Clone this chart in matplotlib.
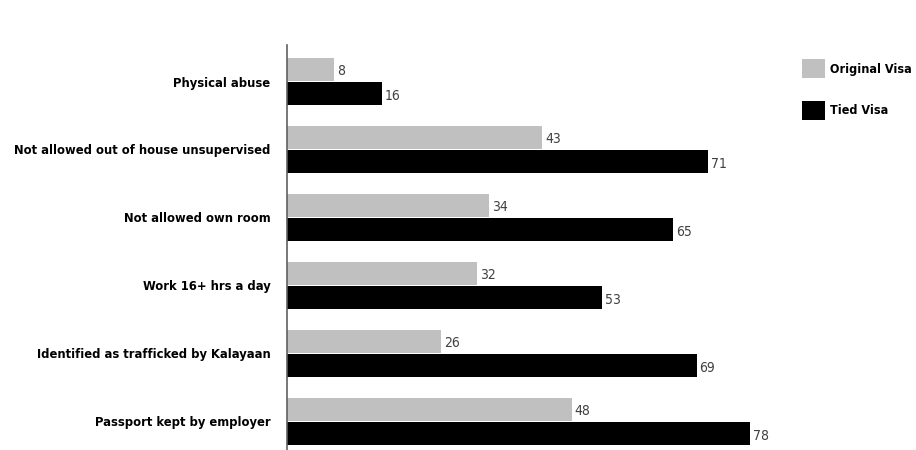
import numpy as np
import matplotlib.pyplot as plt

categories = [
    'Physical abuse',
    'Not allowed out of house unsupervised',
    'Not allowed own room',
    'Work 16+ hrs a day',
    'Identified as trafficked by Kalayaan',
    'Passport kept by employer',
]
original_visa = [8, 43, 34, 32, 26, 48]
tied_visa = [16, 71, 65, 53, 69, 78]

plt.rcParams['font.family'] = ['DejaVu Sans']
plt.rcParams['font.stretch'] = 'condensed'

fig = plt.figure(figsize=(9.16, 4.5), dpi=100)
ax = fig.add_axes([0.3133, 0.0, 0.648, 0.9])

y = np.arange(len(categories))
h = 0.34

bars_o = ax.barh(y - h / 2 - 0.01, original_visa, height=h, color='#c0c0c0', label='Original Visa')
bars_t = ax.barh(y + h / 2 + 0.01, tied_visa, height=h, color='black', label='Tied Visa')

for bars, vals in ((bars_o, original_visa), (bars_t, tied_visa)):
    for b, v in zip(bars, vals):
        ax.text(b.get_width() + 0.5, b.get_y() + b.get_height() / 2 + 0.03, str(v),
                va='center', ha='left', fontsize=10, color='#404040')

ax.set_xlim(0, 100)
ax.set_ylim(len(categories) - 1 + 0.42, -0.537)
ax.set_yticks(y)
ax.set_yticklabels(categories, fontsize=9.3, fontweight='bold')
ax.tick_params(axis='y', length=0, pad=12)
ax.set_xticks([])
for side in ('top', 'right', 'bottom'):
    ax.spines[side].set_visible(False)
ax.spines['left'].set_color('#606060')
ax.spines['left'].set_linewidth(1.2)

leg = ax.legend(loc='upper left', bbox_to_anchor=(0.876, 0.868), bbox_transform=fig.transFigure,
                frameon=False, prop={'weight': 'bold', 'size': 9},
                borderpad=0, borderaxespad=0,
                handlelength=1.8, handleheight=1.9, labelspacing=1.85, handletextpad=0.4)

fig.savefig('out.png', dpi=100, facecolor='white')
